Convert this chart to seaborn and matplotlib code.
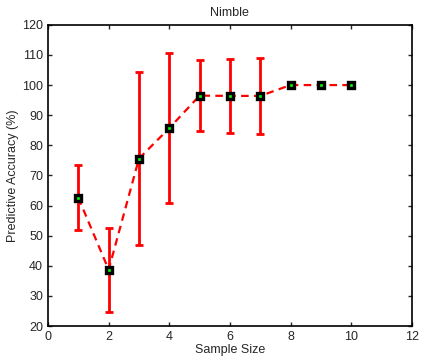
import matplotlib
matplotlib.use("Agg")
import matplotlib.pyplot as plt
import seaborn as sns
import pandas as pd

# datos
sample_size = [1, 2, 3, 4, 5, 6, 7, 8, 9, 10]
accuracy = [62.6, 38.7, 75.6, 85.7, 96.5, 96.4, 96.4, 100, 100, 100]
error = [10.8, 14.0, 28.7, 24.9, 11.8, 12.2, 12.5, 0, 0, 0]

df = pd.DataFrame({"Sample Size": sample_size, "Accuracy": accuracy, "Error": error})

sns.set_style("ticks")
plt.rcParams["font.family"] = ["Liberation Sans", "DejaVu Sans"]

fig = plt.figure(figsize=(4.25, 3.62), dpi=100)
ax = fig.add_axes([0.113, 0.0994, 0.856, 0.832])

ax.errorbar(df["Sample Size"], df["Accuracy"], yerr=df["Error"], fmt="none",
            ecolor="red", elinewidth=2, capsize=3, capthick=2, zorder=3)
sns.lineplot(data=df, x="Sample Size", y="Accuracy", ax=ax, color="red",
             linewidth=1.6, dashes=False, zorder=2)
ax.lines[-1].set_dashes((3.4, 2.4))
ax.plot(df["Sample Size"], df["Accuracy"], linestyle="none", marker="s",
        markersize=5, markerfacecolor="#00ff00", markeredgecolor="black",
        markeredgewidth=2.4, zorder=4)

ax.set_xlim(0, 12)
ax.set_ylim(20, 120)
ax.set_xticks(range(0, 13, 2))
ax.set_yticks(range(20, 121, 10))
ax.tick_params(direction="in", top=True, right=True, labelsize=9, length=3, width=1)
for s in ax.spines.values():
    s.set_visible(True)
    s.set_linewidth(1.2)
    s.set_color("black")
ax.set_title("Nimble", fontsize=9)
ax.set_xlabel("Sample Size", fontsize=9, labelpad=1)
ax.set_ylabel("Predictive Accuracy (%)", fontsize=9, labelpad=2)

fig.savefig("out.png", dpi=100)
